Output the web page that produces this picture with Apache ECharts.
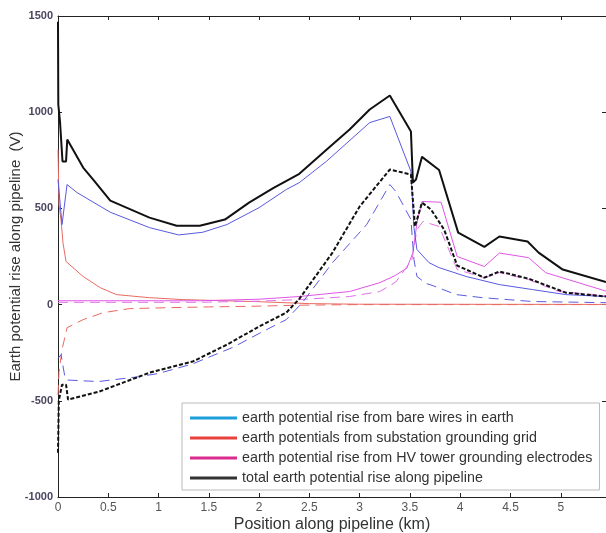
<!DOCTYPE html>
<html>
<head>
<meta charset="utf-8">
<script src="https://cdn.jsdelivr.net/npm/echarts@6/dist/echarts.min.js"></script>
<style>
  html, body { margin: 0; padding: 0; background: #fff; }
  #chart { width: 606px; height: 533px; }
</style>
</head>
<body>
<div id="chart"></div>
<script>
// x in km, y in V
var xTicks = [0, 0.5, 1, 1.5, 2, 2.5, 3, 3.5, 4, 4.5, 5];
var yTicks = [-1000, -500, 0, 500, 1000, 1500];

var legendNames = [
  'earth potential rise from bare wires in earth',
  'earth potentials from substation grounding grid',
  'earth potential rise from HV tower grounding electrodes',
  'total earth potential rise along pipeline'
];

// bare wires (blue)
var bareSolid = [[0, 650], [0.04, 416], [0.09, 624], [0.19, 582], [0.52, 480], [0.91, 400], [1.2, 362], [1.44, 376],
  [1.68, 416], [2.0, 504], [2.27, 598], [2.4, 634], [2.67, 745], [3.1, 946], [3.3, 978], [3.51, 692], [3.54, 400],
  [3.57, 286], [3.69, 218], [3.79, 192], [4.06, 146], [4.39, 104], [4.72, 78], [5.05, 52], [5.45, 42]];
var bareDashed = [[0, -280], [0.03, -260], [0.07, -380], [0.09, -392], [0.4, -400], [0.8, -375], [1.0, -358],
  [1.34, -308], [1.74, -222], [2.0, -150], [2.27, -78], [2.43, 10], [2.73, 218], [3.07, 416], [3.3, 624],
  [3.36, 588], [3.51, 442], [3.54, 234], [3.57, 146], [3.66, 110], [3.72, 100], [3.96, 52], [4.22, 36],
  [4.72, 16], [5.45, 10]];

// substation grid (red)
var gridSolid = [[0, 806], [0.01, 520], [0.03, 440], [0.05, 320], [0.08, 224], [0.25, 146], [0.42, 88],
  [0.58, 52], [0.91, 36], [1.24, 26], [2.0, 15], [2.5, 5], [3.0, 2], [5.45, 1]];
var gridDashed = [[0, -470], [0.01, -350], [0.04, -234], [0.09, -120], [0.25, -78], [0.45, -42], [0.71, -21],
  [1.1, -16], [1.5, -12], [2.0, -8], [2.4, -3], [3.0, 0], [5.45, 0]];

// HV towers (magenta)
var towerSolid = [[0, 20], [1.0, 20], [1.41, 20], [2.0, 28], [2.4, 42], [2.9, 68], [3.2, 114], [3.35, 150],
  [3.47, 190], [3.53, 270], [3.57, 426], [3.62, 536], [3.81, 532], [3.97, 250], [4.24, 198], [4.39, 268],
  [4.68, 244], [4.85, 166], [5.45, 70]];
var towerDashed = [[0, 12], [1.4, 12], [2.0, 18], [2.4, 26], [2.9, 42], [3.2, 68], [3.36, 118], [3.52, 234],
  [3.57, 390], [3.63, 432], [3.79, 406], [3.97, 182], [4.24, 140], [4.39, 166], [4.68, 130], [4.98, 68],
  [5.45, 47]];

// total (black)
var totalSolid = [[0, 1470], [0.003, 1040], [0.02, 950], [0.045, 744], [0.08, 744], [0.092, 858], [0.25, 712],
  [0.35, 650], [0.52, 540], [0.91, 452], [1.18, 410], [1.41, 410], [1.66, 442], [1.9, 530], [2.14, 605],
  [2.4, 680], [2.67, 805], [2.9, 910], [3.1, 1014], [3.3, 1087], [3.51, 900], [3.53, 634], [3.56, 650],
  [3.62, 768], [3.79, 700], [3.98, 374], [4.24, 300], [4.39, 354], [4.67, 328], [4.78, 270], [5.02, 182],
  [5.45, 117]];
var totalDashed = [[0, -770], [0.008, -500], [0.04, -416], [0.08, -416], [0.1, -494], [0.41, -452],
  [0.91, -354], [1.34, -296], [1.68, -208], [2.0, -114], [2.27, -42], [2.4, 30], [2.73, 270], [3.0, 510],
  [3.3, 702], [3.51, 676], [3.55, 406], [3.62, 530], [3.71, 494], [3.84, 390], [3.97, 203], [4.24, 140],
  [4.39, 172], [4.68, 135], [5.05, 62], [5.45, 42]];

var font = '"Liberation Sans", Arial, sans-serif';

function line(name, data, color, width, dash) {
  return {
    name: name,
    type: 'line',
    data: data,
    showSymbol: false,
    symbol: 'none',
    silent: true,
    lineStyle: { color: color, width: width, type: dash || 'solid' },
    itemStyle: { color: color },
    z: width > 1.5 ? 3 : 2
  };
}

var chart = echarts.init(document.getElementById('chart'));
var option = {
  animation: false,
  backgroundColor: '#fff',
  grid: { left: 58, right: 0, top: 16, bottom: 36, containLabel: false, outerBoundsMode: 'none' },
  xAxis: [{
    type: 'value', min: 0, max: 5.45, interval: 0.5,
    name: 'Position along pipeline (km)', nameLocation: 'middle', nameGap: 20, nameMoveOverlap: false,
    nameTextStyle: { fontSize: 16, color: '#333', fontFamily: font },
    axisLine: { show: true, onZero: false, lineStyle: { color: '#222', width: 1 } },
    axisTick: { show: true, inside: true, length: 4, lineStyle: { color: '#222' } },
    axisLabel: { color: '#555', fontSize: 12, fontFamily: font, margin: 5, showMaxLabel: false,
      formatter: function (v) { return xTicks.indexOf(v) >= 0 ? String(v) : ''; } },
    splitLine: { show: false }
  }, {
    type: 'value', position: 'top', min: 0, max: 5.45, interval: 0.5,
    axisLine: { show: true, onZero: false, lineStyle: { color: '#222', width: 1 } },
    axisTick: { show: true, inside: true, length: 4, lineStyle: { color: '#222' } },
    axisLabel: { show: false }, splitLine: { show: false }
  }],
  yAxis: [{
    type: 'value', min: -1000, max: 1500, interval: 500,
    name: 'Earth potential rise along pipeline  (V)', nameLocation: 'middle', nameGap: 35, nameMoveOverlap: false,
    nameTextStyle: { fontSize: 15, color: '#333', fontFamily: font },
    axisLine: { show: true, onZero: false, lineStyle: { color: '#222', width: 1 } },
    axisTick: { show: true, inside: true, length: 4, lineStyle: { color: '#222' } },
    axisLabel: { color: '#4d4560', fontSize: 11, fontWeight: 'bold', fontFamily: font, margin: 5,
      formatter: function (v) { return yTicks.indexOf(v) >= 0 ? String(v) : ''; } },
    splitLine: { show: false }
  }, {
    type: 'value', position: 'right', min: -1000, max: 1500, interval: 500,
    axisLine: { show: true, onZero: false, lineStyle: { color: '#222', width: 1 } },
    axisTick: { show: true, inside: true, length: 4, lineStyle: { color: '#222' } },
    axisLabel: { show: false }, splitLine: { show: false }
  }],
  legend: {
    orient: 'vertical',
    left: 182, top: 403,
    padding: [8, 7, 5, 8],
    itemGap: 6,
    itemWidth: 47, itemHeight: 3,
    itemTextGap: 5,
    backgroundColor: '#fff',
    borderColor: '#bbb', borderWidth: 1, borderRadius: 0,
    textStyle: { fontSize: 14.3, color: '#333', fontFamily: font, lineHeight: 14 },
    data: [
      { name: legendNames[0], icon: 'rect', itemStyle: { color: '#1e9fdc' } },
      { name: legendNames[1], icon: 'rect', itemStyle: { color: '#e8413c' } },
      { name: legendNames[2], icon: 'rect', itemStyle: { color: '#d92b8e' } },
      { name: legendNames[3], icon: 'rect', itemStyle: { color: '#333333' } }
    ]
  },
  series: [
    line(legendNames[1], gridSolid, '#e86a62', 1),
    line('grid dashed', gridDashed, '#e86a62', 1, [10, 6]),
    line(legendNames[2], towerSolid, '#e055e6', 1),
    line('tower dashed', towerDashed, '#e070e6', 1, [10, 6]),
    line(legendNames[0], bareSolid, '#5858e0', 1),
    line('bare dashed', bareDashed, '#5a5ae0', 1, [10, 6]),
    line(legendNames[3], totalSolid, '#111111', 2),
    line('total dashed', totalDashed, '#111111', 2, [4, 2])
  ]
};
chart.setOption(option);
</script>
</body>
</html>
